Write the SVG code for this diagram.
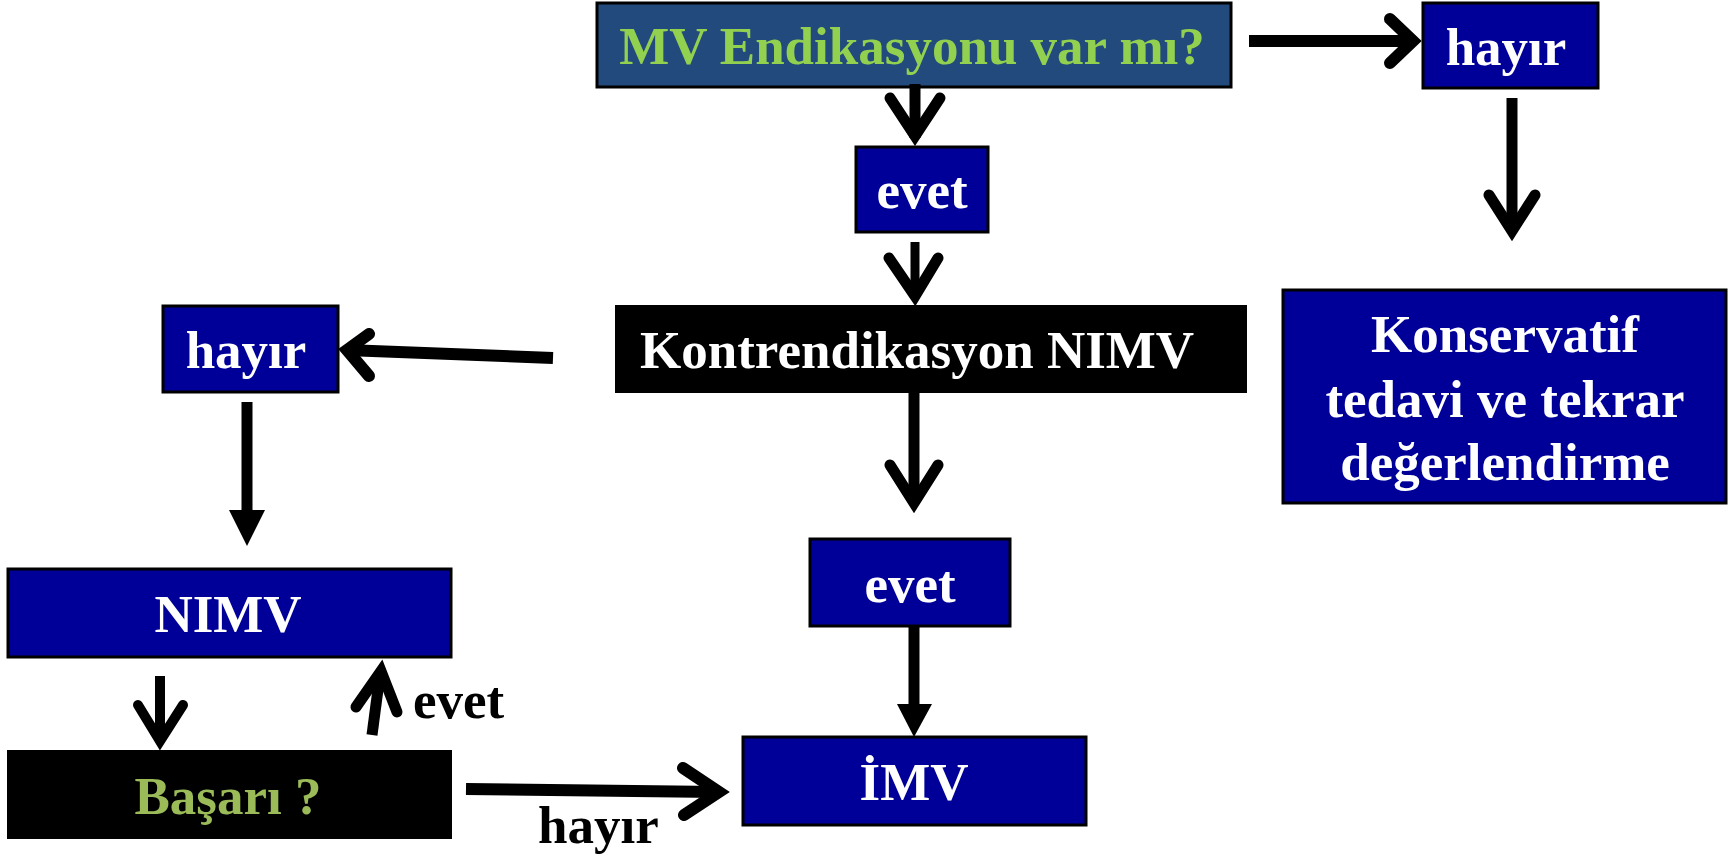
<svg xmlns="http://www.w3.org/2000/svg" width="1736" height="857" viewBox="0 0 1736 857">
<style>
.box{fill:#000099;stroke:#000;stroke-width:3}
.dark{fill:#000;stroke:#000;stroke-width:2}
.mv{fill:#224A7C;stroke:#000;stroke-width:3}
.t{font-family:"Liberation Serif","Times New Roman",serif;font-weight:bold;font-size:53px;fill:#fff;text-anchor:middle}
.lbl{font-family:"Liberation Serif","Times New Roman",serif;font-weight:bold;font-size:53px;fill:#000}
.shaft{stroke:#000;fill:none;stroke-linecap:butt}
.head{stroke:#000;fill:none;stroke-linecap:round;stroke-linejoin:miter;stroke-miterlimit:10}
.tri{fill:#000}
</style>
<rect width="1736" height="857" fill="#fff"/>
<g id="n-mv">
<rect class="mv" x="597" y="3" width="634" height="84"/>
<text class="t" x="912" y="64" style="fill:#92D050">MV Endikasyonu var mı?</text>
</g>
<g id="n-evet1">
<rect class="box" x="856" y="147" width="132" height="85"/>
<text class="t" x="922" y="208">evet</text>
</g>
<g id="n-hayir-right">
<rect class="box" x="1423" y="3" width="175" height="85"/>
<text class="t" x="1506" y="65">hayır</text>
</g>
<g id="n-konservatif">
<rect class="box" x="1283" y="290" width="443" height="213"/>
<text class="t" x="1505" y="352">Konservatif</text>
<text class="t" x="1505" y="417">tedavi ve tekrar</text>
<text class="t" x="1505" y="480">değerlendirme</text>
</g>
<g id="n-kontrendikasyon">
<rect class="dark" x="616" y="306" width="630" height="86"/>
<text class="t" x="640" y="368" style="text-anchor:start">Kontrendikasyon NIMV</text>
</g>
<g id="n-hayir-left">
<rect class="box" x="163" y="306" width="175" height="86"/>
<text class="t" x="246" y="368">hayır</text>
</g>
<g id="n-evet2">
<rect class="box" x="810" y="539" width="200" height="87"/>
<text class="t" x="910" y="602">evet</text>
</g>
<g id="n-imv">
<rect class="box" x="743" y="737" width="343" height="88"/>
<text class="t" x="914" y="800">İMV</text>
</g>
<g id="n-nimv">
<rect class="box" x="8" y="569" width="443" height="88"/>
<text class="t" x="228" y="632">NIMV</text>
</g>
<g id="n-basari">
<rect class="dark" x="8" y="751" width="443" height="87"/>
<text class="t" x="228" y="814" style="fill:#9BBB59">Başarı ?</text>
</g>
<g id="connectors">
<line class="shaft" x1="915" y1="84" x2="915" y2="138" stroke-width="11"/>
<polyline class="head" points="890,98 915,136 940,98" stroke-width="11"/>
<line class="shaft" x1="915" y1="242" x2="915" y2="296" stroke-width="9"/>
<polyline class="head" points="889,258 915,296 938,258" stroke-width="11"/>
<line class="shaft" x1="1249" y1="41" x2="1412" y2="41" stroke-width="12"/>
<polyline class="head" points="1390,19 1413,41 1390,63" stroke-width="12"/>
<line class="shaft" x1="1512" y1="98" x2="1512" y2="230" stroke-width="11"/>
<polyline class="head" points="1489,195 1512,231 1535,195" stroke-width="11"/>
<line class="shaft" x1="553" y1="358" x2="346" y2="350" stroke-width="12"/>
<polyline class="head" points="369,334 347,350 369,376" stroke-width="12"/>
<line class="shaft" x1="247" y1="402" x2="247" y2="512" stroke-width="11"/>
<polygon class="tri" points="229,510 265,510 247,546"/>
<line class="shaft" x1="914" y1="392" x2="914" y2="502" stroke-width="11"/>
<polyline class="head" points="890,465 914,503 938,465" stroke-width="11"/>
<line class="shaft" x1="914" y1="626" x2="914" y2="706" stroke-width="11"/>
<polygon class="tri" points="897,704 932,704 914,737"/>
<line class="shaft" x1="160" y1="676" x2="160" y2="740" stroke-width="10"/>
<polyline class="head" points="138,705 160,741 183,705" stroke-width="10"/>
<line class="shaft" x1="372" y1="735" x2="380" y2="674" stroke-width="11"/>
<polyline class="head" points="356,707 381,671 397,712" stroke-width="11"/>
<line class="shaft" x1="466" y1="789" x2="718" y2="792" stroke-width="12"/>
<polyline class="head" points="683,768 719,792 684,815" stroke-width="12"/>
<text class="lbl" x="413" y="718">evet</text>
<text class="lbl" x="538" y="843">hayır</text>
</g>
</svg>
